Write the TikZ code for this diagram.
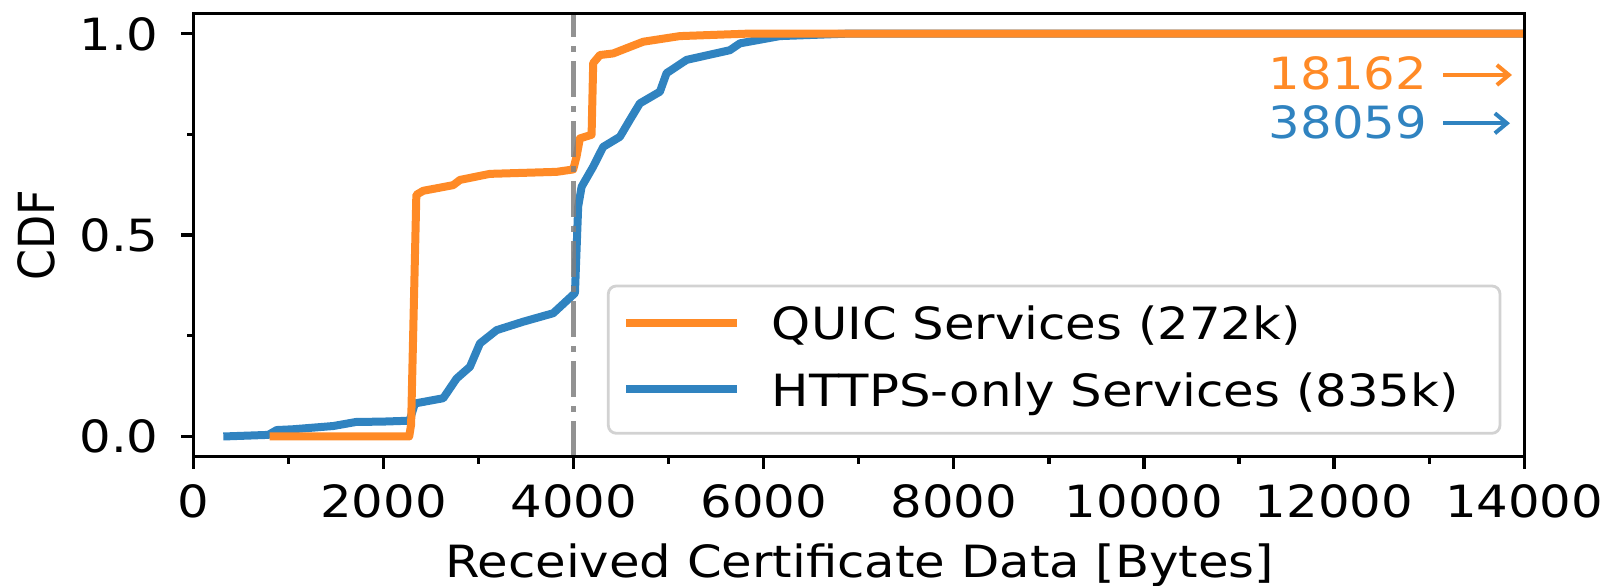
\documentclass[tikz,border=0pt]{standalone}
\usepackage{fontspec}
\usepackage{graphicx}
\setmainfont{DejaVu Sans}[FakeStretch=1.12]
\newfontfamily\plainfont{DejaVu Sans}
\usetikzlibrary{arrows.meta}
\definecolor{qorange}{HTML}{FF8A26}
\definecolor{hblue}{HTML}{3083C0}
\definecolor{legendgray}{HTML}{D2D2D2}
\definecolor{vgray}{HTML}{7F7F7F}
\begin{document}
\begin{tikzpicture}[x=0.25pt,y=-0.25pt,
  txt/.style={font=\fontsize{11.1}{13}\selectfont, inner sep=0pt, outer sep=0pt},
  spine/.style={line width=0.8pt, black, line cap=rect},
  tickline/.style={line width=0.8pt, black},
  curve/.style={line width=2pt, line join=round, line cap=butt},
  annarrow/.style={line width=1pt, -{Straight Barb[length=3pt,width=5pt]}},
]
\useasboundingbox (0,0) rectangle (1611,586);

% ---------- curves and reference line (data coordinates) ----------
\begin{scope}[shift={(193.5,436.5)}, x=0.0237625pt, y=100.7pt]
  \clip (0,-0.05) rectangle (14000,1.05);
  \draw[curve, hblue] (314,0) -- (787,0.004) -- (876,0.016) -- (1050,0.018)
    -- (1471,0.026) -- (1709,0.036) -- (1997,0.037) -- (2249,0.039)
    -- (2278,0.042) -- (2330,0.082) -- (2628,0.095) -- (2769,0.144)
    -- (2909,0.173) -- (3014,0.231) -- (3190,0.264) -- (3470,0.285)
    -- (3785,0.306) -- (4014,0.356) -- (4048,0.571) -- (4084,0.620)
    -- (4206,0.670) -- (4311,0.719) -- (4487,0.744) -- (4592,0.786)
    -- (4697,0.827) -- (4908,0.856) -- (4978,0.902) -- (5189,0.935)
    -- (5644,0.959) -- (5750,0.976) -- (6170,0.994) -- (6872,1.0)
    -- (14000,1.0);
  \draw[curve, qorange] (800,0) -- (2270,0) -- (2290,0.03) -- (2345,0.600)
    -- (2418,0.610) -- (2733,0.624) -- (2804,0.637) -- (3119,0.652)
    -- (3821,0.657) -- (3996,0.663) -- (4031,0.695) -- (4066,0.740)
    -- (4189,0.749) -- (4206,0.927) -- (4277,0.947) -- (4417,0.951)
    -- (4558,0.964) -- (4732,0.980) -- (5118,0.994) -- (5820,1.0)
    -- (14000,1.0);
  \coordinate (vbot) at (4000,-0.05);
  \coordinate (vtop) at (4000,1.05);
  \draw[vgray, opacity=0.85, line width=1.25pt,
        dash pattern=on 9pt off 2.25pt on 1.5pt off 2.25pt] (vbot) -- (vtop);
\end{scope}

% ---------- axes frame ----------
\draw[spine] (193.5,13.4) rectangle (1524.2,456.6);

% x ticks
\foreach \v in {0,2000,...,14000}{
  \draw[tickline] ({193.5+0.09505*\v},456.6) -- ++(0,12.5);
  \node[txt, anchor=base] (xt\v) at ({193.5+0.09505*\v},518) {\v};
}
\foreach \v in {1000,3000,...,13000}{
  \draw[tickline] ({193.5+0.09505*\v},456.6) -- ++(0,7);
}
% y ticks
\foreach \v/\l in {0/0.0,0.5/0.5,1/1.0}{
  \draw[tickline] (193.5,{436.5-402.8*\v}) -- ++(-13,0);
  \node[txt, anchor=base east] (yt\l) at (158.5,{436.5-402.8*\v+16.5}) {\l};
}
\foreach \v in {0.25,0.75}{
  \draw[tickline] (193.5,{436.5-402.8*\v}) -- ++(-7,0);
}

% axis labels
\node[txt, anchor=base] (xlabel) at (859.7,578) {Received Certificate Data [Bytes]};
\node[txt, rotate=90, anchor=base] (ylabel) at (54,235) {\plainfont\scalebox{1}[1.12]{CDF}};

% ---------- legend ----------
\draw[legendgray, line width=0.7pt, rounded corners=2pt, fill=white]
  (608.3,286) rectangle (1500,433.3);
\draw[qorange, line width=2pt] (626,322.7) -- (736.7,322.7);
\draw[hblue, line width=2pt] (626,389.3) -- (736.7,389.3);
\node[txt, anchor=base west] (legq) at (772,339.5) {QUIC Services (272k)};
\node[txt, anchor=base west] (legh) at (772,406.5) {HTTPS-only Services (835k)};

% ---------- annotations ----------
\node[txt, anchor=base east, text=qorange] (annq) at (1427,90) {18162};
\node[txt, anchor=base east, text=hblue] (annh) at (1427,138.3) {38059};
\coordinate (aqs) at (1443,75);
\coordinate (aqe) at (1512,75);
\coordinate (ahs) at (1443,123.3);
\coordinate (ahe) at (1510,123.3);
\draw[annarrow, qorange] (aqs) -- (aqe);
\draw[annarrow, hblue] (ahs) -- (ahe);
\end{tikzpicture}
\end{document}
